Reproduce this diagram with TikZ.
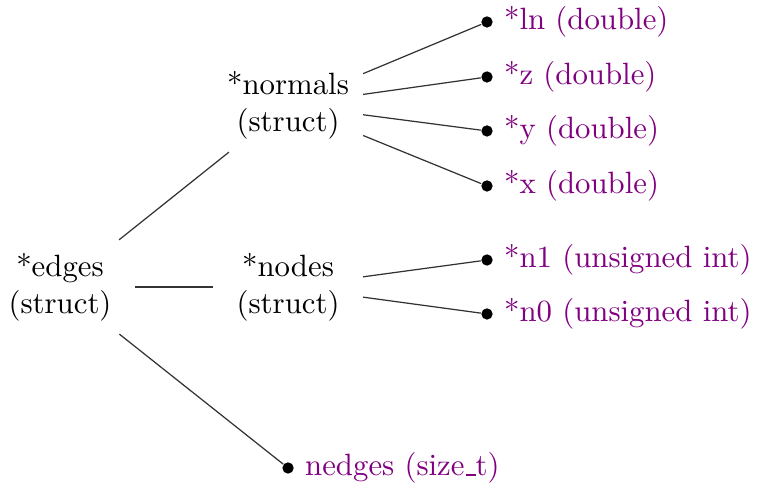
\documentclass[tikz,border=0pt]{standalone}
\newcommand\uscore{\leavevmode\kern.06em\vbox{\hrule width.3em}}
\begin{document}
\begin{tikzpicture}[
 strct/.style={text width=1.41cm,align=center,inner sep=3.33pt,outer sep=1pt},
 leaf/.style={circle,fill,inner sep=1.3pt},
 lbl/.style={text=violet},
 link/.style={draw=black!80}]
 \useasboundingbox (-0.685,-2.249) rectangle (7.99,3.276);
 % the edges record and its members
 \node[strct] (edges) at (0,0) {*edges\\(struct)};
 \node[strct] (normals) at (2.603,2.078) {*normals\\(struct)};
 \node[strct] (nodes) at (2.603,0) {*nodes\\(struct)};
 \node[leaf,label={[lbl]right:nedges (size\uscore t)}] (nedges) at (2.603,-2.066) {};
 \draw[link] (edges) -- (normals);
 \draw[link] (edges) -- (nodes);
 \draw[link] (edges) -- (nedges);
 % leaves: y/name/parent/label
 \foreach \y/\n/\p/\lab in {%
 3.025/ln/normals/{*ln (double)},
 2.397/z/normals/{*z (double)},
 1.781/y/normals/{*y (double)},
 1.153/x/normals/{*x (double)},
 0.308/n1/nodes/{*n1 (unsigned int)},
 -0.308/n0/nodes/{*n0 (unsigned int)}}
 {
 \node[leaf,label={[lbl]right:\lab}] (\n) at (4.874,\y) {};
 \draw[link] (\p) -- (\n);
 }
\end{tikzpicture}
\end{document}
